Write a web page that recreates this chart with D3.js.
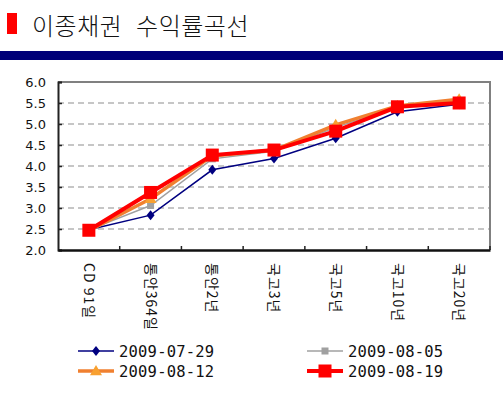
<!DOCTYPE html>
<html>
<head>
<meta charset="utf-8">
<script src="https://cdn.jsdelivr.net/npm/d3@7/dist/d3.min.js"></script>
<style>
  body { margin: 0; background: #fff; }
  svg { display: block; }
</style>
</head>
<body>
<svg id="chart" width="503" height="394"></svg>
<script>
// categories and yields
var categories = ["CD 91일", "통안364일", "통안2년", "국고3년", "국고5년", "국고10년", "국고20년"]
var yTicks = [2.0, 2.5, 3.0, 3.5, 4.0, 4.5, 5.0, 5.5, 6.0]

var s0729 = [2.48, 2.83, 3.91, 4.18, 4.66, 5.29, 5.47]
var s0805 = [2.48, 3.06, 4.17, 4.35, 4.92, 5.40, 5.55]
var s0812 = [2.46, 3.22, 4.24, 4.38, 4.98, 5.43, 5.59]
var s0819 = [2.47, 3.37, 4.26, 4.38, 4.83, 5.41, 5.50]

var seriesNames = ["2009-07-29", "2009-08-05", "2009-08-12", "2009-08-19"]

var svg = d3.select("#chart")

// title
svg.append("rect").attr("x", 7).attr("y", 13).attr("width", 10).attr("height", 21).attr("fill", "#ff0000")
svg.append("text")
    .attr("x", 32).attr("y", 35)
    .attr("font-family", "'Noto Sans CJK KR', sans-serif")
    .attr("font-size", 24)
    .attr("font-weight", 300)
    .attr("letter-spacing", 0.5)
    .attr("word-spacing", 8)
    .attr("fill", "#111")
    .text("이종채권 수익률곡선")
svg.append("rect").attr("x", 0).attr("y", 51).attr("width", 503).attr("height", 9).attr("fill", "#000078")

var plotL = 58, plotR = 490, plotT = 82, plotB = 250

var x = d3.scaleBand().domain(categories).range([plotL, plotR])
var y = d3.scaleLinear().domain([2, 6]).range([plotB, plotT])

// grid
svg.append("g")
    .selectAll("line")
    .data(yTicks.slice(1, -1))
    .enter().append("line")
    .attr("x1", plotL).attr("x2", plotR)
    .attr("y1", function(d) { return y(d) }).attr("y2", function(d) { return y(d) })
    .attr("stroke", "#b4b4b4")
    .attr("stroke-width", 1.3)
    .attr("stroke-dasharray", "6,4")

// frame: top/right gray
svg.append("path")
    .attr("d", "M" + plotL + "," + plotT + "H" + plotR + "V" + plotB)
    .attr("fill", "none").attr("stroke", "#808080").attr("stroke-width", 2)

// y axis
var yAxis = svg.append("g")
    .attr("transform", "translate(" + plotL + ",0)")
    .call(d3.axisLeft(y).tickValues(yTicks).tickSize(-4).tickPadding(12).tickFormat(d3.format(".1f")))
yAxis.select(".domain").attr("stroke", "#222").attr("stroke-width", 2)
yAxis.selectAll(".tick line").attr("stroke", "#222").attr("stroke-width", 1.5)
yAxis.selectAll("text")
    .attr("font-family", "'DejaVu Sans', sans-serif")
    .attr("font-size", 13)
    .attr("fill", "#111")

// x axis
var xAxis = svg.append("g")
    .attr("transform", "translate(0," + plotB + ")")
    .call(d3.axisBottom(x).tickSize(0).tickPadding(0))
xAxis.select(".domain").attr("stroke", "#111").attr("stroke-width", 2.5)
xAxis.selectAll(".tick text")
    .attr("font-family", "'Noto Sans CJK KR', sans-serif")
    .attr("font-size", 14)
    .attr("letter-spacing", 1)
    .attr("fill", "#111")
    .attr("text-anchor", "start")
    .attr("dy", "0.35em")
    .attr("y", 0)
    .attr("transform", "translate(0,13) rotate(90)")

// inward tick marks at band boundaries
svg.append("g")
    .selectAll("line")
    .data(categories)
    .enter().append("line")
    .attr("x1", function(d) { return x(d) + x.bandwidth() })
    .attr("x2", function(d) { return x(d) + x.bandwidth() })
    .attr("y1", plotB).attr("y2", plotB - 4)
    .attr("stroke", "#222").attr("stroke-width", 1.5)

function cx(i) { return x(categories[i]) + x.bandwidth() / 2 }

var line = d3.line()
    .x(function(d, i) { return cx(i) })
    .y(function(d) { return y(d) })

var styles = [
  { data: s0729, color: "#000080", width: 1.5, marker: "diamond", size: 5 },
  { data: s0805, color: "#a0a0a0", width: 1.5, marker: "square", size: 3.5 },
  { data: s0812, color: "#f08030", width: 3.5, marker: "triangle", size: 6 },
  { data: s0819, color: "#ff0000", width: 4, marker: "square", size: 6.5 }
]

function drawMarker(g, type, px, py, size, color) {
  if (type === "diamond") {
    g.append("path")
      .attr("d", "M" + px + "," + (py - size) + "L" + (px + size * 0.8) + "," + py + "L" + px + "," + (py + size) + "L" + (px - size * 0.8) + "," + py + "Z")
      .attr("fill", color)
  } else if (type === "square") {
    g.append("rect")
      .attr("x", px - size).attr("y", py - size)
      .attr("width", size * 2).attr("height", size * 2)
      .attr("fill", color)
  } else if (type === "triangle") {
    g.append("path")
      .attr("d", "M" + px + "," + (py - size) + "L" + (px + size) + "," + (py + size * 0.7) + "L" + (px - size) + "," + (py + size * 0.7) + "Z")
      .attr("fill", "#f8a030")
  }
}

styles.forEach(function(s) {
  var g = svg.append("g")
  g.append("path")
    .datum(s.data)
    .attr("d", line)
    .attr("fill", "none")
    .attr("stroke", s.color)
    .attr("stroke-width", s.width)
  s.data.forEach(function(v, i) {
    drawMarker(g, s.marker, cx(i), y(v), s.size, s.color)
  })
})

// legend
var legendPos = [[78, 351], [307, 351], [78, 371], [307, 371]]
seriesNames.forEach(function(name, i) {
  var s = styles[i], p = legendPos[i]
  var g = svg.append("g")
  g.append("line")
    .attr("x1", p[0]).attr("x2", p[0] + 36)
    .attr("y1", p[1]).attr("y2", p[1])
    .attr("stroke", s.color).attr("stroke-width", s.width)
  drawMarker(g, s.marker, p[0] + 18, p[1], s.size, s.color)
  g.append("text")
    .attr("x", p[0] + 41).attr("y", p[1])
    .attr("dy", "0.36em")
    .attr("font-family", "'DejaVu Sans Mono', monospace")
    .attr("font-size", 15.5)
    .attr("letter-spacing", 0.2)
    .attr("fill", "#111")
    .text(name)
})
</script>
</body>
</html>
